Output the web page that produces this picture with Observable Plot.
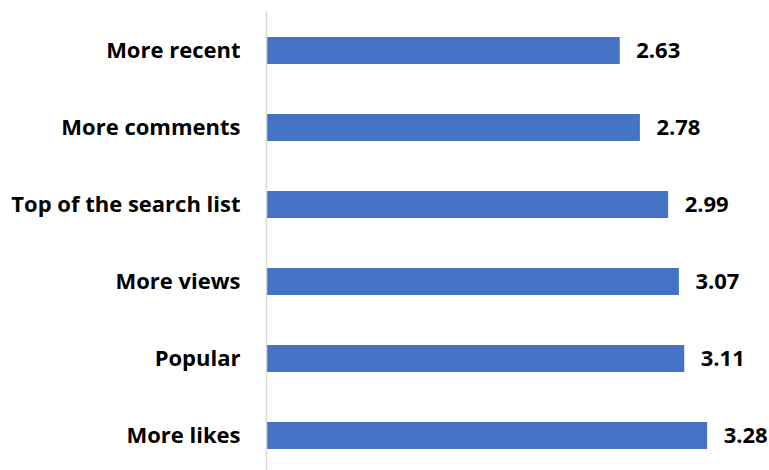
<!DOCTYPE html>
<html>
<head>
<meta charset="utf-8">
<script src="https://cdn.jsdelivr.net/npm/d3@7"></script>
<script src="https://cdn.jsdelivr.net/npm/@observablehq/plot@0.6"></script>
<style>
  html, body { margin: 0; padding: 0; background: #fff; overflow: hidden; }
</style>
</head>
<body>
<div id="chart"></div>
<script>
const categories = ["More recent", "More comments", "Top of the search list", "More views", "Popular", "More likes"];
const values = [2.63, 2.78, 2.99, 3.07, 3.11, 3.28];

const data = categories.map((c, i) => ({category: c, value: values[i]}));

const chart = Plot.plot({
  width: 769,
  height: 470,
  marginLeft: 266,
  marginRight: 0,
  marginTop: 12,
  marginBottom: 0,
  style: {fontFamily: "'Open Sans', sans-serif", color: "#000", background: "#fff"},
  x: {domain: [0, 3.74], axis: null},
  y: {domain: categories, paddingInner: 0.65, paddingOuter: 0.29, align: 0.54, axis: null},
  marks: [
    Plot.barX(data, {x: "value", y: "category", fill: "#4472C4"}),
    Plot.ruleX([0], {stroke: "#d9d9d9", strokeWidth: 1.5}),
    Plot.axisY({tickSize: 0, tickPadding: 26, fontSize: 22, fontWeight: "bold", fill: "#000", label: null}),
    Plot.text(data, {x: "value", y: "category", text: d => d.value.toFixed(2), dx: 16, textAnchor: "start", fontSize: 22, fontWeight: "bold", fill: "#000"})
  ]
});
document.getElementById("chart").appendChild(chart);
</script>
</body>
</html>
